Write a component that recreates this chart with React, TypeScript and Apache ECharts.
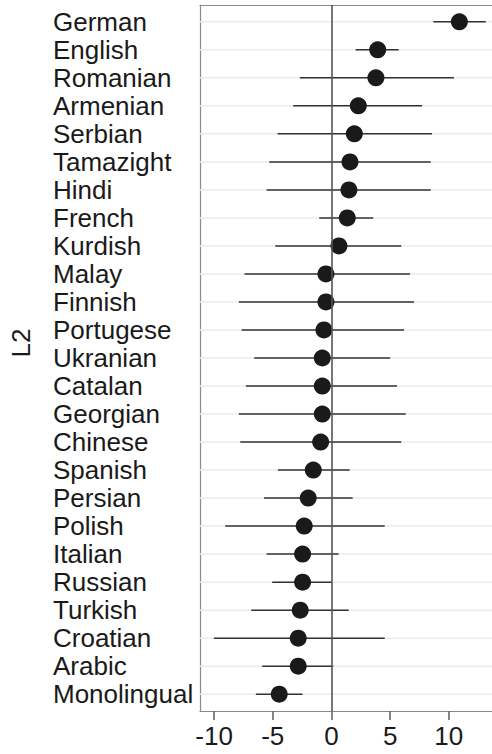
import React, { useEffect, useRef } from "react";
import * as echarts from "echarts";

const categories = ["German","English","Romanian","Armenian","Serbian","Tamazight","Hindi","French","Kurdish","Malay","Finnish","Portugese","Ukranian","Catalan","Georgian","Chinese","Spanish","Persian","Polish","Italian","Russian","Turkish","Croatian","Arabic","Monolingual"];
const estimates = [10.9, 3.94, 3.79, 2.29, 1.95, 1.58, 1.49, 1.35, 0.64, -0.47, -0.47, -0.64, -0.78, -0.78, -0.78, -0.92, -1.55, -1.98, -2.32, -2.46, -2.46, -2.66, -2.83, -2.83, -4.45];
const lower = [8.68, 2.06, -2.69, -3.26, -4.59, -5.3, -5.53, -1.04, -4.79, -7.4, -7.89, -7.66, -6.58, -7.29, -7.89, -7.77, -4.56, -5.75, -9.05, -5.53, -5.05, -6.84, -10.02, -5.9, -6.44];
const upper = [13.15, 5.73, 10.44, 7.72, 8.57, 8.46, 8.46, 3.56, 5.95, 6.69, 7.03, 6.18, 5.01, 5.58, 6.33, 5.95, 1.55, 1.81, 4.54, 0.61, 0.02, 1.47, 4.54, 0.15, -2.46];
const xTicks = [-10, -5, 0, 5, 10];
const xMin = -11.2;
const xMax = 13.68;

const FONT = "'Liberation Sans', Arial, sans-serif";

export default function App() {
  const ref = useRef<HTMLDivElement>(null);
  useEffect(() => {
    if (!ref.current) return;
    const chart = echarts.init(ref.current, null, { renderer: "svg" });
    const idx = categories.map((_, i) => i);
    const gridData = idx.map((i) => [0, i]);
    const barData = idx.map((i) => [lower[i], upper[i], i]);
    const pointData = idx.map((i) => [estimates[i], i]);
    chart.setOption({
      animation: false,
      backgroundColor: "#ffffff",
      grid: { left: 200, right: 0, top: 5, bottom: 43, containLabel: false, outerBoundsMode: "none" },
      xAxis: [
        {
          type: "value",
          min: xMin,
          max: xMax,
          position: "bottom",
          axisLine: { show: true, onZero: false, lineStyle: { color: "#8a8a8a", width: 1.2 } },
          axisTick: { show: true, customValues: xTicks, length: 9, lineStyle: { color: "#666", width: 1.6 } },
          axisLabel: { show: true, customValues: xTicks, margin: 12, fontSize: 26, color: "#1a1a1a", fontFamily: FONT },
          splitLine: { show: false },
        },
        {
          type: "value",
          min: xMin,
          max: xMax,
          position: "top",
          axisLine: { show: true, onZero: false, lineStyle: { color: "#8a8a8a", width: 1.2 } },
          axisTick: { show: false },
          axisLabel: { show: false },
          splitLine: { show: false },
        },
      ],
      yAxis: {
        type: "value",
        inverse: true,
        min: -0.6,
        max: 24.6,
        name: "L2",
        nameLocation: "middle",
        nameRotate: 90,
        nameGap: 166,
        nameTextStyle: { fontSize: 26, color: "#1a1a1a", fontFamily: FONT, padding: [0, 0, 0, 30] },
        axisLine: { show: true, onZero: false, lineStyle: { color: "#8a8a8a", width: 1.2 } },
        axisTick: { show: false },
        splitLine: { show: false },
        axisLabel: {
          show: true,
          customValues: idx,
          formatter: (v: number) => categories[Math.round(v)] ?? "",
          align: "left",
          margin: 147,
          fontSize: 26,
          color: "#1a1a1a",
          fontFamily: FONT,
        },
      },
      series: [
        {
          type: "custom",
          z: 1,
          xAxisIndex: 0,
          data: gridData,
          encode: { x: 0, y: 1 },
          renderItem: (params: any, api: any) => {
            const y = api.coord([0, api.value(1)])[1];
            const cs = params.coordSys;
            return {
              type: "line",
              shape: { x1: cs.x, y1: y, x2: cs.x + cs.width, y2: y },
              style: { stroke: "#ebebeb", lineWidth: 1.5 },
            };
          },
          markLine: {
            silent: true,
            symbol: "none",
            label: { show: false },
            lineStyle: { color: "#555555", width: 1.6, type: "solid" },
            data: [{ xAxis: 0 }],
          },
        },
        {
          type: "custom",
          z: 2,
          xAxisIndex: 0,
          data: barData,
          encode: { x: [0, 1], y: 2 },
          renderItem: (params: any, api: any) => {
            const p1 = api.coord([api.value(0), api.value(2)]);
            const p2 = api.coord([api.value(1), api.value(2)]);
            return {
              type: "line",
              shape: { x1: p1[0], y1: p1[1], x2: p2[0], y2: p2[1] },
              style: { stroke: "#333333", lineWidth: 1.5 },
            };
          },
        },
        {
          type: "scatter",
          z: 3,
          xAxisIndex: 0,
          data: pointData,
          symbol: "circle",
          symbolSize: 17,
          itemStyle: { color: "#1a1a1a", opacity: 1 },
        },
      ],
    });
    return () => chart.dispose();
  }, []);
  return (
    <div style={{ position: "absolute", left: 0, top: 0, width: 492, height: 754, background: "#fff" }}>
      <div ref={ref} style={{ width: 492, height: 754 }} />
    </div>
  );
}
